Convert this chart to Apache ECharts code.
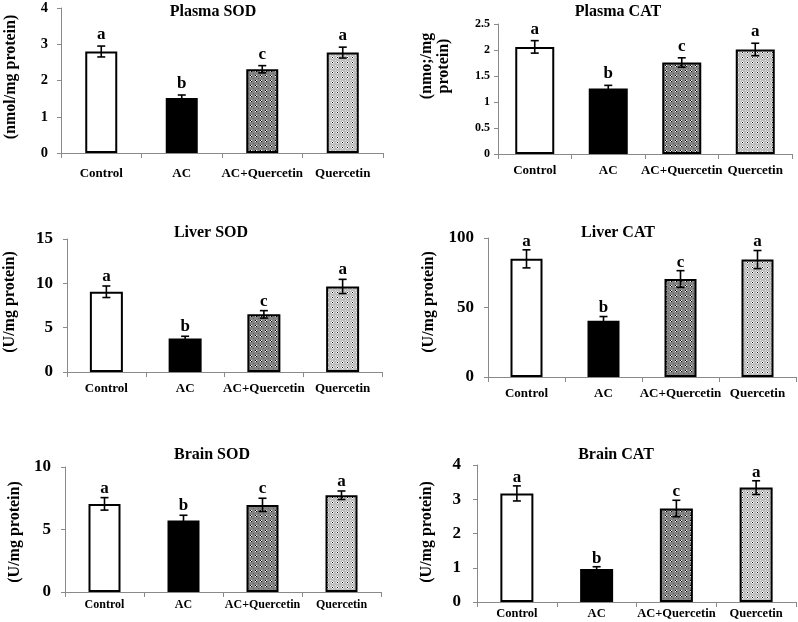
<!DOCTYPE html>
<html><head><meta charset="utf-8">
<script src="https://cdn.jsdelivr.net/npm/echarts@6/dist/echarts.min.js"></script>
<style>html,body{margin:0;padding:0;background:#fff}#c{width:798px;height:622px}</style>
</head><body><div id="c"></div>
<script>
// ---- data ----
const categories = ['Control', 'AC', 'AC+Quercetin', 'Quercetin'];
const letters = ['a', 'b', 'c', 'a'];
const panelTitles = ['Plasma SOD', 'Plasma CAT', 'Liver SOD', 'Liver CAT', 'Brain SOD', 'Brain CAT'];
const yNames = ['(nmol/mg protein)', '(nmo;/mg\nprotein)', '(U/mg protein)', '(U/mg protein)', '(U/mg protein)', '(U/mg protein)'];
const plasmaSOD = [2.8, 1.52, 2.31, 2.77];
const plasmaSODErr = [0.15, 0.08, 0.1, 0.15];
const plasmaCAT = [2.06, 1.26, 1.76, 2.01];
const plasmaCATErr = [0.12, 0.06, 0.09, 0.12];
const liverSOD = [9.05, 3.78, 6.5, 9.65];
const liverSODErr = [0.65, 0.25, 0.42, 0.8];
const liverCAT = [85, 40.5, 70.5, 84.5];
const liverCATErr = [6.5, 3, 6, 6.5];
const brainSOD = [7.05, 5.72, 6.97, 7.74];
const brainSODErr = [0.5, 0.42, 0.53, 0.34];
const brainCAT = [3.17, 0.96, 2.73, 3.34];
const brainCATErr = [0.22, 0.07, 0.24, 0.2];
const yMax = [4, 2.5, 15, 100, 10, 4];
const yStep = [1, 0.5, 5, 50, 5, 1];

const values = [plasmaSOD, plasmaCAT, liverSOD, liverCAT, brainSOD, brainCAT];
const errors = [plasmaSODErr, plasmaCATErr, liverSODErr, liverCATErr, brainSODErr, brainCATErr];

// ---- layout / style ----
const FONT = '"Liberation Serif", "Times New Roman", serif';
const grids = [
  {left: 61, top: 8, width: 322, height: 145},
  {left: 498, top: 24, width: 294, height: 130},
  {left: 67, top: 239, width: 315, height: 133},
  {left: 488, top: 238, width: 308, height: 139},
  {left: 65, top: 467, width: 316, height: 125},
  {left: 477, top: 465, width: 319, height: 137}
];
const barW = [32, 39, 33, 32, 32, 33];
const yLabelSize = [14.5, 12, 17, 17, 17, 17];
const yLabelMargin = [13, 8, 14, 14, 14, 16];
const xLabelSize = [13, 13, 13, 13, 12, 12.5];
const xLabelMargin = [14, 10, 10, 10, 7, 5];
const titlePos = [[213, 4], [618, 4], [211, 225], [618, 225], [212, 447], [616, 447]];
const yNamePos = [[11, 77], [435, 66], [10, 302], [429, 302], [15, 532], [427, 532]];
const letterGap = [3, 3, 1, 0, 1, 0];

function makePattern(bg, dots) {
  const c = document.createElement('canvas');
  c.width = 5; c.height = 5;
  const g = c.getContext('2d');
  g.fillStyle = bg; g.fillRect(0, 0, 5, 5);
  dots.forEach(([x, y, col]) => { g.fillStyle = col; g.fillRect(x, y, 1, 1); });
  return c;
}
const darkPat = makePattern('#858585', [[0,0,'#000'],[1,1,'#000'],[1,0,'#fff'],[0,1,'#fff'],[3,3,'#606060']]);
const lightPat = makePattern('#bdbdbd', [[2,2,'#000'],[1,2,'#fff'],[3,2,'#fff'],[2,1,'#fff'],[2,3,'#fff'],[0,0,'#e0e0e0']]);
const fills = ['#ffffff', '#000000', {image: darkPat, repeat: 'repeat'}, {image: lightPat, repeat: 'repeat'}];

const option = {
  animation: false,
  backgroundColor: '#fff',
  title: panelTitles.map((t, k) => ({
    text: t, left: titlePos[k][0], top: titlePos[k][1], textAlign: 'center', padding: 0,
    textStyle: {fontFamily: FONT, fontWeight: 'bold', fontSize: 16, color: '#000'}
  })),
  grid: grids.map(g => Object.assign({containLabel: false}, g)),
  xAxis: grids.map((g, k) => ({
    type: 'category', gridIndex: k, data: categories, boundaryGap: true,
    axisLine: {lineStyle: {color: '#8a8a8a', width: 1}},
    axisTick: {show: true, length: 5, lineStyle: {color: '#8a8a8a'}},
    axisLabel: {interval: 0, margin: xLabelMargin[k], color: '#000', fontFamily: FONT, fontWeight: 'bold', fontSize: xLabelSize[k]}
  })),
  yAxis: grids.map((g, k) => ({
    type: 'value', gridIndex: k, min: 0, max: yMax[k], interval: yStep[k],
    splitLine: {show: false},
    axisLine: {show: true, lineStyle: {color: '#8a8a8a', width: 1}},
    axisTick: {show: true, length: 4, lineStyle: {color: '#8a8a8a'}},
    axisLabel: {margin: yLabelMargin[k], color: '#000', fontFamily: FONT, fontWeight: 'bold', fontSize: yLabelSize[k]}
  })),
  graphic: yNames.map((n, k) => ({
    type: 'text', x: yNamePos[k][0], y: yNamePos[k][1], rotation: Math.PI / 2,
    style: {text: n, textAlign: 'center', textVerticalAlign: 'middle', fill: '#000',
      font: 'bold 16px ' + FONT, lineHeight: 17}
  })),
  series: []
};

values.forEach((vals, k) => {
  option.series.push({
    type: 'bar', xAxisIndex: k, yAxisIndex: k, barWidth: barW[k],
    data: vals.map((v, i) => ({value: v, itemStyle: {color: fills[i], borderColor: '#000', borderWidth: 2}}))
  });
  const errs = errors[k];
  option.series.push({
    type: 'custom', xAxisIndex: k, yAxisIndex: k, z: 5, clip: false,
    data: vals.map((v, i) => [i, v, errs[i]]),
    renderItem: function (params, api) {
      const i = api.value(0), v = api.value(1), e = api.value(2);
      const top = api.coord([i, v + e]);
      const bot = api.coord([i, v - e]);
      const hw = 4;
      const st = {stroke: '#000', lineWidth: 1.6};
      return {type: 'group', children: [
        {type: 'line', shape: {x1: top[0], y1: top[1], x2: bot[0], y2: bot[1]}, style: st},
        {type: 'line', shape: {x1: top[0] - hw, y1: top[1], x2: top[0] + hw, y2: top[1]}, style: st},
        {type: 'line', shape: {x1: bot[0] - hw, y1: bot[1], x2: bot[0] + hw, y2: bot[1]}, style: st},
        {type: 'text', x: top[0], y: top[1] - letterGap[k],
          style: {text: letters[params.dataIndex], textAlign: 'center', textVerticalAlign: 'bottom',
            font: 'bold 17px ' + FONT, fill: '#000'}}
      ]};
    }
  });
});

const chart = echarts.init(document.getElementById('c'), null, {renderer: 'canvas'});
chart.setOption(option);
</script></body></html>
